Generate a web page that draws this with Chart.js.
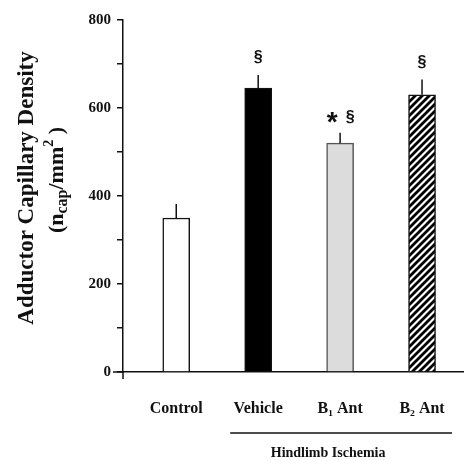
<!DOCTYPE html>
<html>
<head>
<meta charset="utf-8">
<script src="https://cdn.jsdelivr.net/npm/chart.js@4/dist/chart.umd.min.js"></script>
<style>
    html, body { margin: 0; padding: 0; background: #ffffff; }
    #wrap { width: 465px; height: 460px; position: relative; }
</style>
</head>
<body>
<div id="wrap"><canvas id="capillary-chart"></canvas></div>
<script>
const categories = ['Control', 'Vehicle', 'B\u2081 Ant', 'B\u2082 Ant'];
const densityValues = [350, 645, 520, 630];
const densityErrors = [32, 30, 24, 35];
const starMarks = [false, false, true, false];
const sectionMarks = [false, true, true, true];
const yTicks = [0, 200, 400, 600, 800];
const groupLabel = 'Hindlimb Ischemia';

const SERIF = '"Liberation Serif", "DejaVu Serif", serif';
const SANS = '"Liberation Sans", Arial, sans-serif';
const INK = '#111111';

function makeHatch() {
    const tile = document.createElement('canvas');
    tile.width = 7;
    tile.height = 7;
    const t = tile.getContext('2d');
    t.fillStyle = '#ffffff';
    t.fillRect(0, 0, 7, 7);
    t.strokeStyle = '#000000';
    t.lineWidth = 2.8;
    t.beginPath();
    t.moveTo(-1, 8); t.lineTo(8, -1);
    t.moveTo(-4, 4); t.lineTo(4, -4);
    t.moveTo(3, 11); t.lineTo(11, 3);
    t.stroke();
    return t.createPattern(tile, 'repeat');
}

const ctxMain = document.getElementById('capillary-chart').getContext('2d');
const hatch = makeHatch();

// error whiskers, significance marks, y title and the group bracket
const extrasPlugin = {
    id: 'extras',
    afterDatasetsDraw(chart) {
        const ctx = chart.ctx;
        const xs = chart.scales.x;
        const ys = chart.scales.y;
        const meta = chart.getDatasetMeta(0);
        const area = chart.chartArea;

        ctx.save();
        ctx.strokeStyle = INK;
        ctx.lineWidth = 1.5;

        // baseline running past the y axis, and axis stub below it
        ctx.beginPath();
        ctx.moveTo(area.left - 10, area.bottom);
        ctx.lineTo(area.left, area.bottom);
        ctx.moveTo(area.left, area.bottom);
        ctx.lineTo(area.left, area.bottom + 7);
        ctx.stroke();

        meta.data.forEach((bar, i) => {
            const yErr = ys.getPixelForValue(densityValues[i] + densityErrors[i]);
            ctx.beginPath();
            ctx.moveTo(bar.x, bar.y);
            ctx.lineTo(bar.x, yErr);
            ctx.stroke();

            ctx.fillStyle = INK;
            ctx.textAlign = 'center';
            ctx.textBaseline = 'middle';
            if (starMarks[i]) {
                ctx.font = 'bold 28px ' + SANS;
                ctx.fillText('*', bar.x - 8, yErr - 9);
                ctx.font = 'bold 16px ' + SANS;
                ctx.fillText('\u00a7', bar.x + 10, yErr - 15);
            } else if (sectionMarks[i]) {
                ctx.font = 'bold 16px ' + SANS;
                ctx.fillText('\u00a7', bar.x, yErr - 17);
            }
        });

        // group bracket under the ischemia bars
        const gx0 = xs.getPixelForValue(1) - 28;
        const gx1 = xs.getPixelForValue(3) + 30;
        const gy = area.bottom + 61;
        ctx.beginPath();
        ctx.moveTo(gx0, gy);
        ctx.lineTo(gx1, gy);
        ctx.stroke();
        ctx.fillStyle = INK;
        ctx.font = 'bold 14px ' + SERIF;
        ctx.textAlign = 'center';
        ctx.textBaseline = 'alphabetic';
        ctx.fillText(groupLabel, (gx0 + gx1) / 2 - 13, gy + 24);

        // rotated y title with sub/superscripts
        ctx.translate(27, 0);
        ctx.rotate(-Math.PI / 2);
        ctx.textBaseline = 'middle';
        ctx.textAlign = 'center';
        ctx.font = 'bold 23px ' + SERIF;
        ctx.fillText('Adductor Capillary Density', -188, 0);

        const parts = [
            { t: '(n', size: 22, dy: 0 },
            { t: 'cap', size: 16, dy: 6 },
            { t: '/mm', size: 22, dy: 0 },
            { t: '2', size: 14, dy: -8 },
            { t: ' )', size: 22, dy: 0 },
        ];
        let total = 0;
        parts.forEach((p) => {
            ctx.font = 'bold ' + p.size + 'px ' + SERIF;
            p.w = ctx.measureText(p.t).width;
            total += p.w;
        });
        ctx.textAlign = 'left';
        let px = -180 - total / 2;
        parts.forEach((p) => {
            ctx.font = 'bold ' + p.size + 'px ' + SERIF;
            ctx.fillText(p.t, px, 30 + p.dy);
            px += p.w;
        });
        ctx.restore();
    },
};

new Chart(ctxMain, {
    type: 'bar',
    data: {
        datasets: [
            {
                data: categories.map((c, i) => ({ x: i, y: densityValues[i] })),
                backgroundColor: ['#ffffff', '#000000', '#dcdcdc', hatch],
                borderColor: [INK, INK, '#555555', INK],
                borderWidth: 1.5,
                borderSkipped: 'bottom',
                barThickness: 27,
            },
        ],
    },
    options: {
        responsive: true,
        maintainAspectRatio: false,
        animation: false,
        layout: { padding: { left: 0, top: 20, right: 2, bottom: 0 } },
        plugins: {
            legend: { display: false },
            tooltip: { enabled: false },
        },
        scales: {
            x: {
                type: 'linear',
                offset: false,
                min: -0.65,
                max: 3.5,
                afterFit: (scale) => {
                    scale.height = 88;
                    scale.paddingLeft = 0;
                    scale.paddingRight = 0;
                },
                afterBuildTicks: (scale) => {
                    scale.ticks = categories.map((c, i) => ({ value: i }));
                },
                grid: { display: false, drawTicks: false },
                border: { display: true, color: INK, width: 1.5 },
                ticks: {
                    autoSkip: false,
                    maxRotation: 0,
                    padding: 27,
                    color: INK,
                    font: { family: SERIF, size: 16, weight: 'bold' },
                    callback: (value) => categories[value] ?? '',
                },
            },
            y: {
                min: 0,
                max: 800,
                afterFit: (scale) => {
                    scale.width = 123;
                    scale.paddingTop = 0;
                    scale.paddingBottom = 0;
                },
                grid: { drawOnChartArea: false, tickLength: 6, color: INK, lineWidth: 1.5 },
                border: { display: true, color: INK, width: 1.5 },
                ticks: {
                    stepSize: 100,
                    padding: 6,
                    color: INK,
                    font: { family: SERIF, size: 15, weight: 'bold' },
                    callback: (value) => (yTicks.includes(value) ? value : ''),
                },
            },
        },
    },
    plugins: [extrasPlugin],
});
</script>
</body>
</html>
